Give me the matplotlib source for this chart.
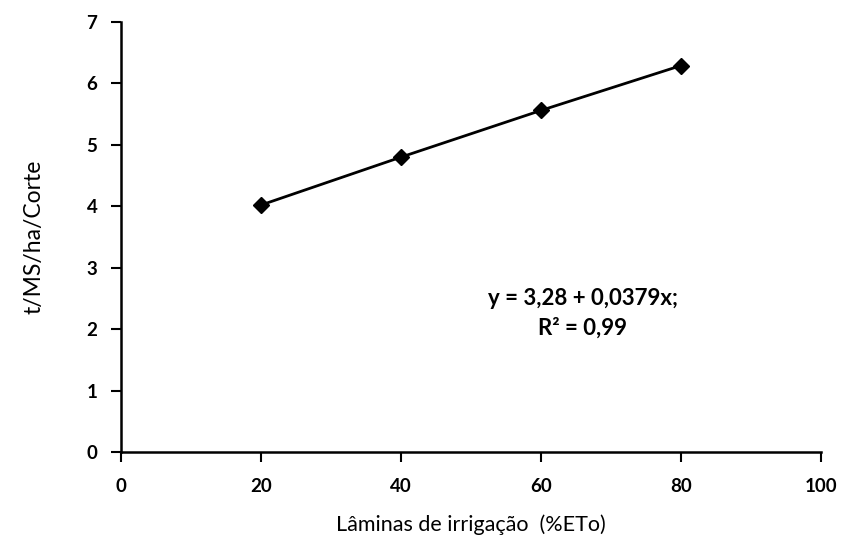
import matplotlib.pyplot as plt

# data
laminas = [20, 40, 60, 80]
producao = [4.02, 4.80, 5.56, 6.29]
xticks = [0, 20, 40, 60, 80, 100]
yticks = [0, 1, 2, 3, 4, 5, 6, 7]

plt.rcParams['font.family'] = ['Lato', 'DejaVu Sans']

fig = plt.figure(figsize=(8.44, 5.48), dpi=100)
ax = fig.add_axes([0.1434, 0.1752, 0.8293, 0.7847])

ax.plot(laminas, producao, color='k', lw=2, marker='D', markersize=8,
        markerfacecolor='k', markeredgecolor='k')

ax.set_xlim(0, 100)
ax.set_ylim(0, 7)
ax.set_xticks(xticks)
ax.set_yticks(yticks)

for s in ['top', 'right']:
    ax.spines[s].set_visible(False)
for s in ['left', 'bottom']:
    ax.spines[s].set_linewidth(1.8)

ax.tick_params(axis='both', direction='out', length=7, width=1.5,
               labelsize=13.5)
ax.tick_params(axis='x', pad=12)
ax.tick_params(axis='y', pad=10)
for lab in ax.get_xticklabels() + ax.get_yticklabels():
    lab.set_fontweight('bold')

ax.set_xlabel('Lâminas de irrigação  (%ETo)', fontsize=15.5, labelpad=14)
ax.set_ylabel('t/MS/ha/Corte', fontsize=16.5, labelpad=30)

ax.text(66, 2.5, 'y = 3,28 + 0,0379x;', fontsize=16, fontweight='bold',
        ha='center', va='center')
ax.text(66, 2.02, 'R² = 0,99', fontsize=16, fontweight='bold',
        ha='center', va='center')

plt.savefig('out.png')
plt.close()
